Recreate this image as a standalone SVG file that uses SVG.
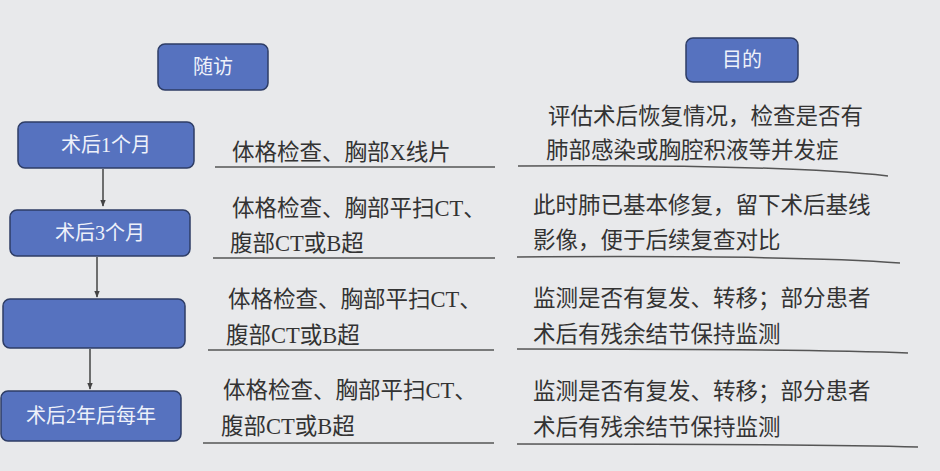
<svg xmlns="http://www.w3.org/2000/svg" width="940" height="471" viewBox="0 0 940 471">
<defs>
<marker id="arr" viewBox="0 0 10 10" refX="9" refY="5" markerWidth="7" markerHeight="7" orient="auto" markerUnits="userSpaceOnUse">
<path d="M0,1 L10,5 L0,9 Z" fill="#444"/>
</marker>
<style>
.box{fill:#5672bf;stroke:#2e3d66;stroke-width:1.5}
.bt{font-family:"Liberation Serif","Noto Sans CJK SC",serif;font-size:20px;fill:#eef1fa;text-anchor:middle}
.t{font-family:"Liberation Serif","Noto Sans CJK SC",serif;font-size:22.5px;fill:#333}
.rule{stroke:#555;stroke-width:1.5;fill:none}
.conn{stroke:#444;stroke-width:1.5;fill:none}
</style>
</defs>
<rect x="0" y="0" width="940" height="471" fill="#e8e9eb"/>
<g id="node-suifang"><rect class="box" x="158" y="44" width="110" height="46" rx="7"/><text class="bt" x="213" y="74">随访</text></g>
<g id="node-mudi"><rect class="box" x="686" y="38" width="112" height="44" rx="7"/><text class="bt" x="742" y="67">目的</text></g>
<g id="node-1m"><rect class="box" x="18" y="122" width="176" height="46" rx="7"/><text class="bt" x="106" y="152">术后1个月</text></g>
<g id="node-3m"><rect class="box" x="10" y="210" width="180" height="46" rx="7"/><text class="bt" x="100" y="240">术后3个月</text></g>
<g id="node-blank"><rect class="box" x="3" y="299" width="182" height="49" rx="7"/></g>
<g id="node-2y"><rect class="box" x="1" y="391" width="180" height="50" rx="7"/><text class="bt" x="91" y="423">术后2年后每年</text></g>
<g id="connectors">
<line class="conn" x1="103" y1="169" x2="103" y2="206" marker-end="url(#arr)"/>
<line class="conn" x1="97" y1="257" x2="97" y2="297" marker-end="url(#arr)"/>
<line class="conn" x1="90" y1="349" x2="90" y2="389" marker-end="url(#arr)"/>
</g>
<g id="row1">
<text class="t" x="232" y="160">体格检查、胸部X线片</text>
<line class="rule" x1="215" y1="167" x2="495" y2="167"/>
<text class="t" x="548" y="124">评估术后恢复情况，检查是否有</text>
<text class="t" x="546" y="158">肺部感染或胸腔积液等并发症</text>
<path class="rule" d="M518,166 Q780,164 888,176"/>
</g>
<g id="row2">
<text class="t" x="232" y="216">体格检查、胸部平扫CT、</text>
<text class="t" x="230" y="251">腹部CT或B超</text>
<line class="rule" x1="213" y1="258" x2="495" y2="258"/>
<text class="t" x="533" y="213">此时肺已基本修复，留下术后基线</text>
<text class="t" x="533" y="248">影像，便于后续复查对比</text>
<path class="rule" d="M517,257 Q800,255 900,263"/>
</g>
<g id="row3">
<text class="t" x="228" y="307">体格检查、胸部平扫CT、</text>
<text class="t" x="226" y="343">腹部CT或B超</text>
<line class="rule" x1="208" y1="350" x2="494" y2="350"/>
<text class="t" x="533" y="306">监测是否有复发、转移；部分患者</text>
<text class="t" x="533" y="342">术后有残余结节保持监测</text>
<path class="rule" d="M517,349 Q820,349 908,353"/>
</g>
<g id="row4">
<text class="t" x="223" y="398">体格检查、胸部平扫CT、</text>
<text class="t" x="221" y="434">腹部CT或B超</text>
<line class="rule" x1="203" y1="443" x2="494" y2="443"/>
<text class="t" x="533" y="399">监测是否有复发、转移；部分患者</text>
<text class="t" x="533" y="435">术后有残余结节保持监测</text>
<path class="rule" d="M517,444 Q820,444 918,447"/>
</g>
</svg>
